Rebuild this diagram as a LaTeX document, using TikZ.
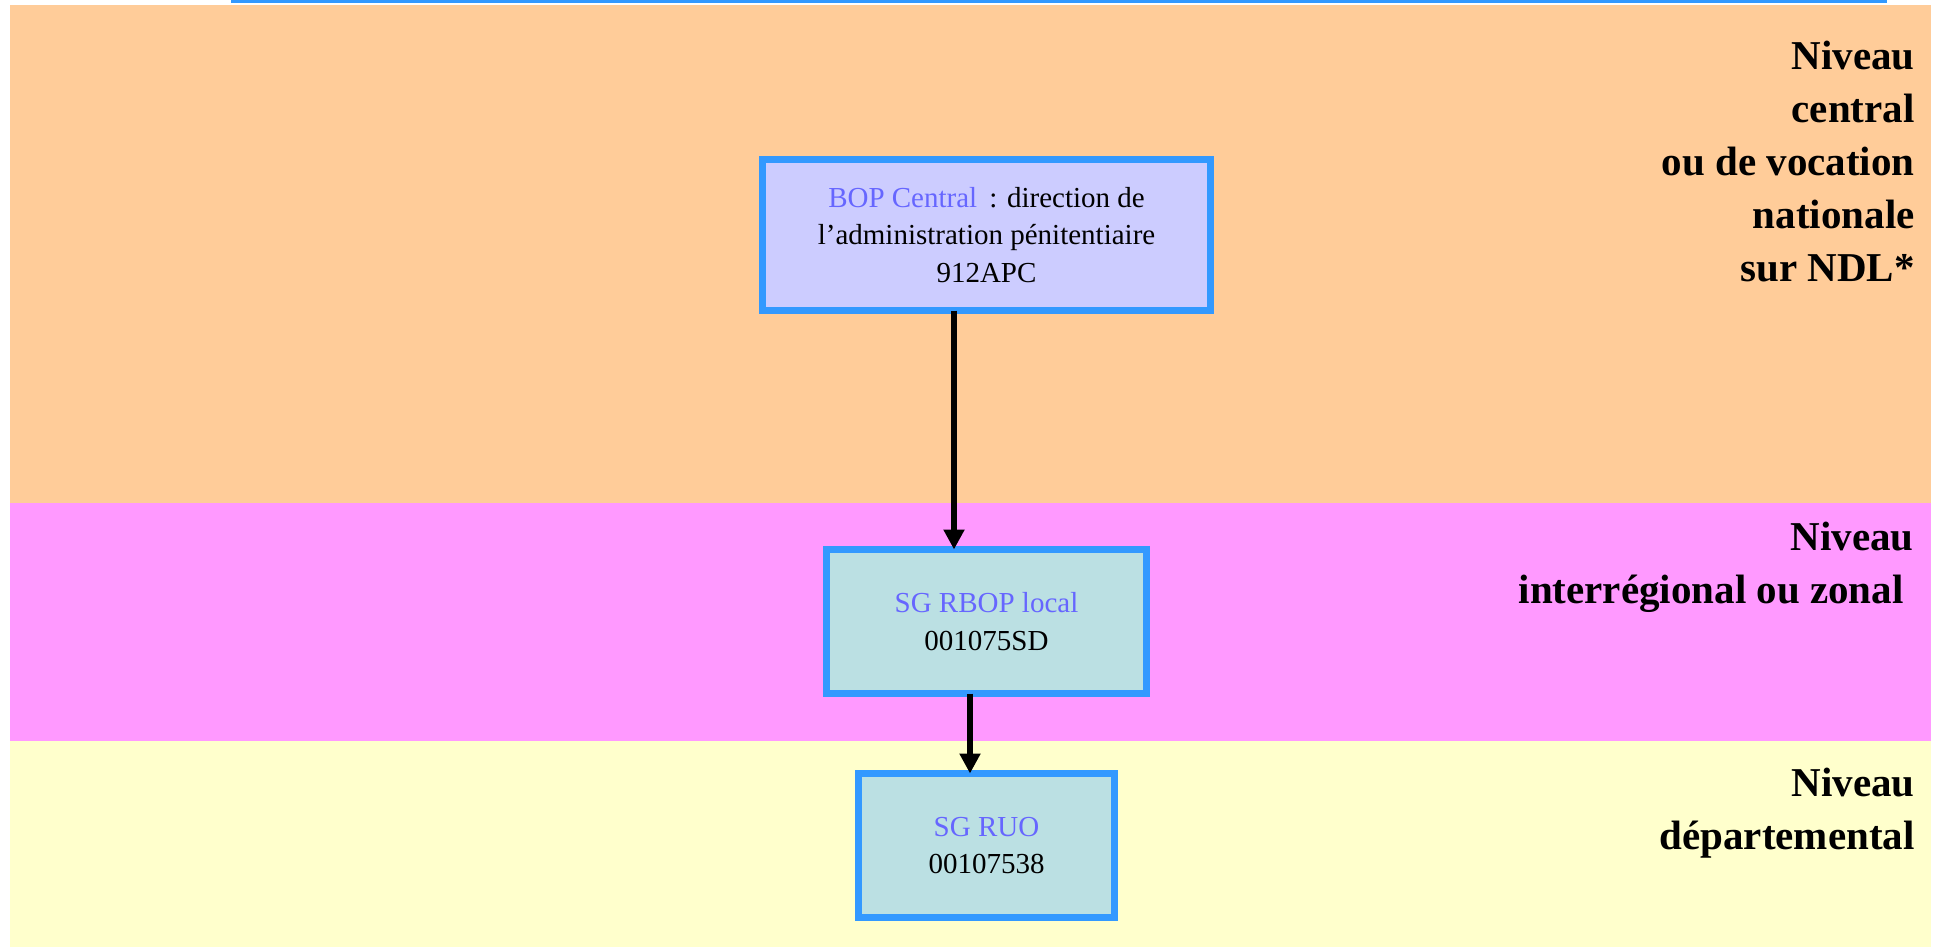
\documentclass[tikz,border=0pt]{standalone}
\usepackage{fontspec}
\setmainfont{Liberation Serif}
\usetikzlibrary{arrows.meta}
\definecolor{cpeach}{HTML}{FFCC99}
\definecolor{cpink}{HTML}{FF99FF}
\definecolor{cyellow}{HTML}{FFFFCC}
\definecolor{clav}{HTML}{CCCCFF}
\definecolor{cpowder}{HTML}{BBE0E3}
\definecolor{cedge}{HTML}{3399FF}
\definecolor{cname}{HTML}{6666FF}

\begin{document}
\begin{tikzpicture}[x=0.5pt, y=-0.5pt,
  budget/.style={draw=cedge, line width=3.5pt, outer sep=0pt, inner sep=0pt,
    align=center, font=\fontsize{14.5}{18.8}\selectfont},
  level/.style={anchor=north east, inner sep=0pt, align=right,
    font=\fontsize{20.5}{26.5}\selectfont\bfseries},
  flow/.style={line width=3pt, -{Triangle[length=10pt, width=10pt]}}]
\useasboundingbox (0,0) rectangle (1937,947);
%% ------------------------------------------------------------------ bands
\fill[cpeach] (10,5) rectangle (1931,503);
\fill[cpink] (10,503) rectangle (1931,741);
\fill[cyellow] (10,741) rectangle (1931,947);
\fill[cedge] (231,0) rectangle (1887,3);
%% ------------------------------------------------------------------ budget boxes
\node[budget, fill=clav, minimum width=224pt, minimum height=75.5pt] (bopc) at (986.5,235)
  {\textcolor{cname}{BOP Central} \,: direction de\\l’administration pénitentiaire\\912APC};
\node[budget, fill=cpowder, minimum width=160pt, minimum height=72pt] (rbop) at (986.5,621.5)
  {\textcolor{cname}{SG RBOP local}\\001075SD};
\node[budget, fill=cpowder, minimum width=128pt, minimum height=72pt] (ruo) at (986.5,845.5)
  {\textcolor{cname}{SG RUO}\\00107538};
% the arrows sit a little left of the centres
\draw[flow] (bopc.south -| 954,0) -- (rbop.north -| 954,0);
\draw[flow] (rbop.south -| 970,0) -- (ruo.north -| 970,0);
%% ------------------------------------------------------------------ levels
\node[level] (lcent) at (1915,41) {Niveau\\central\\ou de vocation\\nationale\\sur NDL*};
\node[level] (linter) at (1914,522) {Niveau\\interrégional ou zonal\hspace*{5pt}};
\node[level] (ldep) at (1915,768) {Niveau\\départemental};
\end{tikzpicture}
\end{document}
